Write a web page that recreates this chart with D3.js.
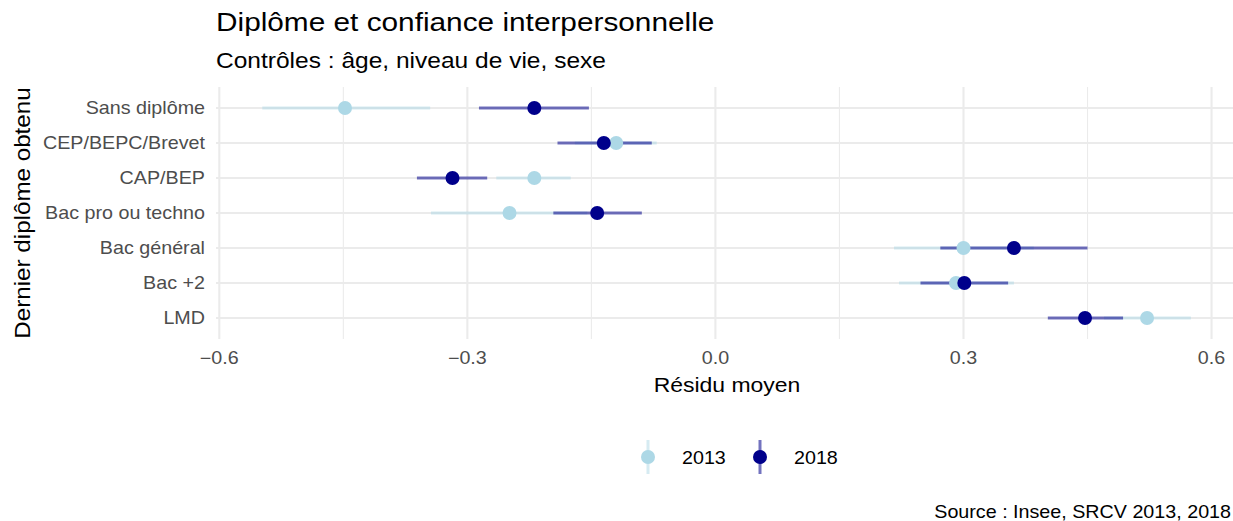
<!DOCTYPE html>
<html>
<head>
<meta charset="utf-8">
<script src="https://cdn.jsdelivr.net/npm/d3@7"></script>
<style>
  body { margin: 0; background: #fff; }
  text { font-family: "Liberation Sans", Arial, sans-serif; }
</style>
</head>
<body>
<div id="chart"></div>
<script>

// categories, top to bottom
const categories = ["Sans diplôme", "CEP/BEPC/Brevet", "CAP/BEP", "Bac pro ou techno", "Bac général", "Bac +2", "LMD"];

// mean residual and interval, 2013
const est2013 = [-0.448, -0.120, -0.219, -0.249, 0.300, 0.291, 0.522];
const low2013 = [-0.548, -0.170, -0.265, -0.344, 0.216, 0.222, 0.470];
const high2013 = [-0.345, -0.071, -0.175, -0.155, 0.385, 0.361, 0.575];

// mean residual and interval, 2018
const est2018 = [-0.219, -0.135, -0.318, -0.143, 0.361, 0.301, 0.447];
const low2018 = [-0.286, -0.191, -0.361, -0.196, 0.272, 0.248, 0.402];
const high2018 = [-0.153, -0.077, -0.276, -0.089, 0.450, 0.354, 0.493];

const years = ["2013", "2018"];
const xTicks = [-0.6, -0.3, 0, 0.3, 0.6];
const xMinor = [-0.45, -0.15, 0.15, 0.45];

const width = 1233;
const height = 521;

const colours = { "2013": "#add8e6", "2018": "#00008b" };
const barOpacity = { "2013": 0.5, "2018": 0.55 };

// glyphs in the reference are a bit wider than Liberation Sans
const K = 1.12;

const svg = d3.select("#chart")
    .append("svg")
    .attr("width", width)
    .attr("height", height);

function addText(str, x, y, size, anchor, colour, rot) {
    return svg.append("text")
        .attr("transform", `translate(${x},${y}) rotate(${rot || 0}) scale(${K},1)`)
        .attr("text-anchor", anchor)
        .style("font-size", size + "px")
        .style("fill", colour)
        .text(str);
}

const panel = { left: 216, right: 1238, top: 87, bottom: 339 };

const xScale = d3.scaleLinear()
    .domain([-0.604, 0.632])
    .range([panel.left, panel.right]);

const yScale = d3.scalePoint()
    .domain(categories)
    .range([panel.top, panel.bottom])
    .padding(0.6);

// grid
svg.selectAll(".minor")
    .data(xMinor)
    .enter()
    .append("line")
        .attr("x1", d => xScale(d))
        .attr("x2", d => xScale(d))
        .attr("y1", panel.top)
        .attr("y2", panel.bottom)
        .attr("stroke", "#ebebeb")
        .attr("stroke-width", 1.1);

svg.selectAll(".major")
    .data(xTicks)
    .enter()
    .append("line")
        .attr("x1", d => xScale(d))
        .attr("x2", d => xScale(d))
        .attr("y1", panel.top)
        .attr("y2", panel.bottom)
        .attr("stroke", "#ebebeb")
        .attr("stroke-width", 2.1);

svg.selectAll(".hgrid")
    .data(categories)
    .enter()
    .append("line")
        .attr("x1", panel.left)
        .attr("x2", panel.right)
        .attr("y1", d => yScale(d))
        .attr("y2", d => yScale(d))
        .attr("stroke", "#ebebeb")
        .attr("stroke-width", 2.1);

// rows as records
const rows = [];
categories.forEach(function(c, i) {
    rows.push({ year: "2013", cat: c, est: est2013[i], low: low2013[i], high: high2013[i] });
});
categories.forEach(function(c, i) {
    rows.push({ year: "2018", cat: c, est: est2018[i], low: low2018[i], high: high2018[i] });
});

svg.selectAll(".bar")
    .data(rows)
    .enter()
    .append("line")
        .attr("x1", d => xScale(d.low))
        .attr("x2", d => xScale(d.high))
        .attr("y1", d => yScale(d.cat))
        .attr("y2", d => yScale(d.cat))
        .attr("stroke", d => colours[d.year])
        .attr("stroke-opacity", d => barOpacity[d.year])
        .attr("stroke-width", 3);

svg.selectAll(".pt")
    .data(rows)
    .enter()
    .append("circle")
        .attr("cx", d => xScale(d.est))
        .attr("cy", d => yScale(d.cat))
        .attr("r", 7)
        .attr("fill", d => colours[d.year]);

// axis labels
categories.forEach(function(c) {
    addText(c, 205, yScale(c) + 6, 17.6, "end", "#4d4d4d");
});

xTicks.forEach(function(t) {
    const lab = t === 0 ? "0.0" : d3.format(".1f")(t).replace("-", "\u2212");
    addText(lab, xScale(t), 364, 17.6, "middle", "#4d4d4d");
});

addText("Résidu moyen", 727, 392, 20.5, "middle", "#000");
addText("Dernier diplôme obtenu", 30, 213, 21.6, "middle", "#000", -90);

// titles
addText("Diplôme et confiance interpersonnelle", 216, 31, 26.6, "start", "#000");
addText("Contrôles : âge, niveau de vie, sexe", 216, 68, 21.9, "start", "#000");
addText("Source : Insee, SRCV 2013, 2018", 1231, 518, 17.6, "end", "#000");

// legend
const legendX = { "2013": 648, "2018": 760 };
years.forEach(function(y) {
    svg.append("line")
        .attr("x1", legendX[y])
        .attr("x2", legendX[y])
        .attr("y1", 440)
        .attr("y2", 474)
        .attr("stroke", colours[y])
        .attr("stroke-opacity", barOpacity[y])
        .attr("stroke-width", 3);
    svg.append("circle")
        .attr("cx", legendX[y])
        .attr("cy", 457)
        .attr("r", 7)
        .attr("fill", colours[y]);
    addText(y, legendX[y] + 34, 464, 17.6, "start", "#000");
});

</script>
</body>
</html>
